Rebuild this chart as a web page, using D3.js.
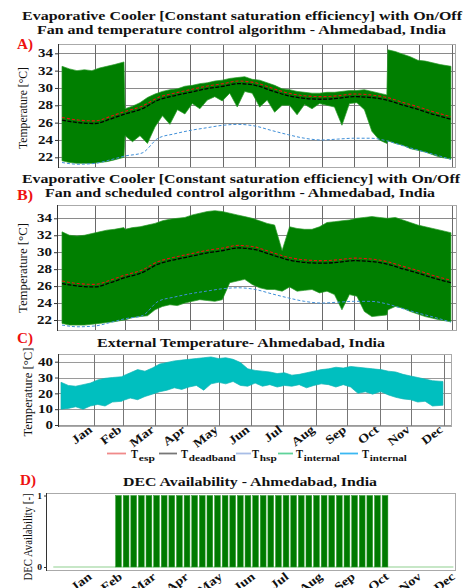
<!DOCTYPE html>
<html><head><meta charset="utf-8">
<script src="https://cdn.jsdelivr.net/npm/d3@7"></script>
<style>
html,body{margin:0;padding:0;background:#fff;}
svg{display:block;font-family:"Liberation Serif","Times New Roman",serif;}
</style></head><body>
<svg id="c" width="466" height="588"></svg>
<script>
// ---------------- DATA ----------------
const months = ["Jan","Feb","Mar","Apr","May","Jun","Jul","Aug","Sep","Oct","Nov","Dec"];
const monthEnds = [31,59,90,120,151,181,212,243,273,304,334,365];

// envelope sample days (day of year)
const envDays = [0,7,14,21,28,35,42,49,58,59,66,73,80,87,94,101,108,115,122,129,136,143,150,157,164,171,178,185,192,199,206,213,220,227,234,241,248,255,262,269,276,283,290,297,304,305,312,319,326,333,340,347,354,364];

// Panel A: internal temperature envelope (temperature control)
const aHigh = [32.5,32.2,32.0,32.1,32.0,32.3,32.5,32.7,33.0,
  27.6,27.9,28.3,28.9,29.3,29.6,29.8,29.9,30.2,30.3,30.5,30.6,30.8,30.9,31.1,31.2,31.3,31.0,30.9,30.6,
  30.3,29.9,29.8,29.6,29.5,29.4,29.4,29.5,29.5,29.6,29.7,29.7,29.8,29.6,29.4,29.2,
  34.4,34.2,33.9,33.6,33.2,33.1,32.9,32.7,32.5];
const aLow = [21.6,21.4,21.3,21.3,21.3,21.4,21.5,21.7,22.0,
  24.5,23.8,24.5,23.6,25.5,26.8,25.8,27.5,27.0,28.2,27.6,28.6,29.0,28.5,29.4,27.8,29.6,29.4,27.8,28.6,
  27.2,28.0,28.0,26.9,28.1,27.6,28.2,28.0,27.8,25.7,28.2,28.3,27.5,25.0,24.0,23.6,
  23.9,23.6,23.4,23.0,22.8,22.6,22.3,22.0,21.8];

// Panel B: internal temperature envelope (scheduled control)
const bHigh = [32.4,32.0,31.9,32.0,32.2,32.4,32.6,32.7,32.9,
  32.7,32.9,33.0,33.2,33.4,33.7,33.9,34.0,34.1,34.4,34.6,34.8,34.9,34.8,34.6,34.4,34.2,34.0,33.7,33.4,
  33.2,30.2,33.0,32.8,32.7,32.7,33.0,33.5,33.6,33.7,33.8,34.0,34.1,34.2,34.1,34.0,
  34.0,34.1,33.8,33.5,33.2,33.0,32.8,32.6,32.3];
const bLow = [21.6,21.4,21.4,21.4,21.5,21.6,21.7,21.8,22.0,
  22.0,22.3,22.4,22.5,23.2,23.6,23.8,23.7,24.0,24.2,24.4,24.3,24.2,24.4,26.4,26.6,26.8,26.2,25.8,25.6,
  25.6,25.4,25.9,25.4,25.5,25.6,25.2,25.4,25.0,23.2,25.0,24.8,23.0,22.4,22.5,22.6,
  23.2,23.6,23.4,23.0,22.7,22.4,22.2,22.0,21.8];

// Panel C: external temperature envelope
const extHigh = [27.0,25.0,24.5,25.5,26.5,28.5,29.5,30.0,30.5,
  31.0,33.0,35.0,34.0,36.0,38.5,39.5,40.5,41.0,41.5,42.0,42.5,43.0,42.0,42.5,41.5,39.5,35.5,34.5,34.0,
  33.5,32.5,33.0,31.5,32.0,33.0,34.0,35.0,35.5,36.5,36.0,37.0,36.5,36.0,35.5,35.0,
  35.0,34.0,33.5,32.0,31.0,30.0,29.0,28.0,27.5];
const extLow = [10.0,10.5,11.5,10.0,12.0,13.0,12.0,14.5,15.0,
  15.5,17.0,16.0,18.0,19.5,21.0,22.0,23.5,22.5,24.0,25.0,22.0,26.0,27.0,26.0,27.5,25.0,24.5,26.5,24.5,
  25.5,24.0,25.0,24.5,25.5,23.5,25.0,26.0,25.5,24.0,25.5,24.0,20.0,21.0,19.5,21.0,
  21.0,19.0,17.5,16.5,16.0,14.5,15.0,12.0,12.5];

// Setpoints
const spDays = [0,15,31,45,59,75,90,105,120,135,151,165,181,196,212,227,243,258,273,289,304,320,334,349,364];
const tEsp      = [26.6,26.3,26.2,26.7,27.3,27.9,28.9,29.4,29.8,30.2,30.5,30.8,30.6,30.0,29.4,29.1,29.0,29.1,29.3,29.2,28.9,28.3,27.8,27.2,26.7];
const tDeadband = [26.3,26.0,25.9,26.4,27.0,27.6,28.6,29.1,29.5,29.9,30.2,30.5,30.3,29.7,29.1,28.8,28.7,28.8,29.0,28.9,28.6,28.0,27.5,26.9,26.4];
const tHsp      = [21.4,21.2,21.3,21.7,22.15,22.5,24.2,24.7,25.1,25.4,25.7,25.8,25.6,25.1,24.6,24.2,24.0,24.1,24.2,24.2,23.9,23.3,22.8,22.3,21.75];

// Panel D: weekly DEC availability (weekday operation)
const decFirstDay = 5.5;
const decOnDays = 5.3;
const decAvail = [0,0,0,0,0,0,0,
  1,1,1,1,1,1,1,1,1,1,1,1,1,1,1,1,1,1,1,1,1,1,1,1,1,1,1,1,1,1,1,1,1,1,1,1,
  0,0,0,0,0,0,0,0,0];

const tempTicks = [22,24,26,28,30,32,34];
const extTicks = [0,10,20,30,40];
const decTicks = [0,1];

const legendItems = [
  {main:"T", sub:"esp", color:"#f08a8a"},
  {main:"T", sub:"deadband", color:"#777777"},
  {main:"T", sub:"hsp", color:"#a8bde6"},
  {main:"T", sub:"internal", color:"#5fd39a"},
  {main:"T", sub:"internal", color:"#3bb8f2"}
];

// ---------------- DRAW ----------------
const svg = d3.select("#c");

function title(txt, x1, x2, y, size) {
  svg.append("text").attr("x", x1).attr("y", y).attr("font-size", size).attr("font-weight", "bold")
    .attr("textLength", x2 - x1).attr("lengthAdjust", "spacingAndGlyphs").attr("fill", "#111").text(txt);
}
function tag(txt, x, y) {
  svg.append("text").attr("x", x).attr("y", y).attr("fill", "#ee1111").attr("font-weight", "bold")
    .attr("font-size", 14).attr("textLength", 16).attr("lengthAdjust", "spacingAndGlyphs").text(txt);
}
function ylabel(txt, cx, cy, len, size, weight) {
  svg.append("text").attr("transform", `translate(${cx},${cy}) rotate(-90)`)
    .attr("x", -len / 2).attr("y", 0).attr("font-size", size).attr("font-weight", weight || "normal")
    .attr("textLength", len).attr("lengthAdjust", "spacingAndGlyphs").attr("fill", "#111").text(txt);
}

let clipId = 0;
function panel(o) {
  const x = d3.scaleLinear().domain([0, 365]).range(o.xr);
  const y = d3.scaleLinear().domain(o.yd).range(o.yr);
  const g = svg.append("g");
  const [bx0, by0, bx1, by1] = o.box;
  const id = "clip" + (clipId++);
  g.append("clipPath").attr("id", id).append("rect")
    .attr("x", bx0).attr("y", by0).attr("width", bx1 - bx0).attr("height", by1 - by0);
  if (o.grid) {
    g.selectAll(".hg").data(o.ticks).join("line")
      .attr("x1", bx0).attr("x2", bx1).attr("y1", d => Math.round(y(d)) + 0.5).attr("y2", d => Math.round(y(d)) + 0.5)
      .attr("stroke", o.hcol || "#8a8a8a").attr("stroke-width", 1);
    g.selectAll(".vg").data(monthEnds).join("line")
      .attr("x1", d => Math.round(x(d)) + 0.5).attr("x2", d => Math.round(x(d)) + 0.5).attr("y1", by0).attr("y2", by1)
      .attr("stroke", o.vcol || "#6a6a6a").attr("stroke-width", 1);
  }
  g.append("rect").attr("x", bx0 + 0.5).attr("y", by0 + 0.5).attr("width", bx1 - bx0 - 1).attr("height", by1 - by0 - 1)
    .attr("fill", "none").attr("stroke", "#aaaaaa").attr("stroke-width", 1);
  const plot = g.append("g").attr("clip-path", `url(#${id})`);
  const ax = g.append("g").attr("transform", `translate(${bx0},0)`)
    .call(d3.axisLeft(y).tickValues(o.ticks).tickSize(o.tickSize || 3).tickFormat(d3.format("d")));
  ax.select(".domain").remove();
  ax.selectAll(".tick line").attr("stroke", "#333");
  ax.selectAll(".tick text").attr("font-family", '"Liberation Serif","Times New Roman",serif')
    .attr("font-weight", "bold").attr("font-size", o.tfs || 11.5).attr("fill", "#111")
    .attr("x", -(o.tpad || 5) / (o.tsx || 1.3)).attr("transform", `scale(${o.tsx || 1.3},1)`);
  g.append("line").attr("x1", bx0 + 0.5).attr("x2", bx0 + 0.5).attr("y1", by0).attr("y2", by1)
    .attr("stroke", "#333").attr("stroke-width", 1);
  return { x, y, g, plot };
}

function envelope(p, hi, lo, fill, stroke) {
  const area = d3.area().x((d, i) => p.x(envDays[i])).y0((d, i) => p.y(lo[i])).y1((d, i) => p.y(hi[i]));
  p.plot.append("path").datum(hi).attr("d", area).attr("fill", fill)
    .attr("stroke", stroke).attr("stroke-width", 0.7).attr("stroke-linejoin", "round");
}
function spLine(p, vals, color, width, dash) {
  const line = d3.line().x((d, i) => p.x(spDays[i])).y(d => p.y(d)).curve(d3.curveMonotoneX);
  p.plot.append("path").datum(vals).attr("d", line).attr("fill", "none").attr("stroke", color)
    .attr("stroke-width", width).attr("stroke-dasharray", dash);
}
function xLabels(p, axisY, dx, dy) {
  const ax = p.g.append("g").attr("transform", `translate(0,${axisY})`)
    .call(d3.axisBottom(p.x).tickValues(monthEnds).tickSize(0).tickFormat((d, i) => months[i]));
  ax.select(".domain").remove();
  ax.selectAll(".tick text").attr("font-family", '"Liberation Serif","Times New Roman",serif')
    .attr("font-weight", "bold").attr("font-size", 12).attr("fill", "#111")
    .attr("text-anchor", "end").attr("x", 0).attr("y", 0).attr("dy", 0)
    .attr("transform", `translate(${dx},${dy}) rotate(-38) scale(1.2,1)`);
}

// ----- Panel A -----
title("Evaporative Cooler [Constant saturation efficiency] with On/Off", 22, 462, 19.5, 12);
title("Fan and temperature control algorithm - Ahmedabad, India", 37, 446, 34, 12);
tag("A)", 17, 49);
const pA = panel({ xr: [62, 452], yd: [22, 34], yr: [157.3, 53.3], box: [58, 44, 456, 168], ticks: tempTicks, grid: true });
envelope(pA, aHigh, aLow, "#007f00", "#2a9a2a");
spLine(pA, tHsp, "#3f8fd8", 1, "3,2");
spLine(pA, tDeadband, "#000000", 1.3, "4,1.5");
spLine(pA, tEsp, "#e81010", 1.1, "3,2");
ylabel("Temperature [°C]", 26.5, 108, 82, 13);

// ----- Panel B -----
title("Evaporative Cooler [Constant saturation efficiency] with On/Off", 22, 460, 183, 12);
title("Fan and scheduled control algorithm - Ahmedabad, India", 45, 435, 197, 12);
tag("B)", 17, 200);
const pB = panel({ xr: [62, 452], yd: [22, 34], yr: [320, 218.3], box: [57, 205, 457, 331], ticks: tempTicks, grid: true });
envelope(pB, bHigh, bLow, "#007f00", "#2a9a2a");
spLine(pB, tHsp, "#3f8fd8", 1, "3,2");
spLine(pB, tDeadband, "#000000", 1.3, "4,1.5");
spLine(pB, tEsp, "#e81010", 1.1, "3,2");
ylabel("Temperature [°C]", 26.5, 268, 90, 13);

// ----- Panel C -----
tag("C)", 17, 343);
title("External Temperature- Ahmedabad, India", 97, 385, 347, 12);
const pC = panel({ xr: [61, 444], yd: [0, 40], yr: [425, 361.7], box: [58, 354, 452, 427], ticks: extTicks, grid: true, hcol: "#9a9a9a", vcol: "#777" });
envelope(pC, extHigh, extLow, "#00bfbf", "#11b5b5");
ylabel("Temperature [°C]", 32, 392, 89, 13.5);
xLabels(pC, 427, -1, 4);

// ----- Legend -----
(function () {
  const lg = svg.append("g").attr("font-weight", "bold");
  const lineX = [[107, 126], [159, 177], [236, 251], [278, 293], [340, 358]];
  const tX = [131, 181, 252, 296, 362];
  const subLen = [16, 47, 17, 36, 37];
  legendItems.forEach((it, i) => {
    lg.append("line").attr("x1", lineX[i][0]).attr("x2", lineX[i][1]).attr("y1", 453.5).attr("y2", 453.5)
      .attr("stroke", it.color).attr("stroke-width", 1.8);
    lg.append("text").attr("x", tX[i]).attr("y", 457.5).attr("font-size", 13).attr("fill", "#111")
      .attr("textLength", 7).attr("lengthAdjust", "spacingAndGlyphs").text(it.main);
    lg.append("text").attr("x", tX[i] + 7.8).attr("y", 461).attr("font-size", 8.5).attr("fill", "#111")
      .attr("textLength", subLen[i]).attr("lengthAdjust", "spacingAndGlyphs").text(it.sub);
  });
})();

// ----- Panel D -----
tag("D)", 20, 485);
title("DEC Availability - Ahmedabad, India", 123, 377, 486, 12);
const pD = panel({ xr: [56.3, 453.4], yd: [0, 1], yr: [567, 495.5], box: [46, 493, 456, 571], ticks: decTicks, grid: false, tickSize: 2, tfs: 8, tsx: 1.2, tpad: 4 });
pD.plot.append("line").attr("x1", pD.x(0) - 3).attr("x2", pD.x(365)).attr("y1", pD.y(0)).attr("y2", pD.y(0))
  .attr("stroke", "#8fd08f").attr("stroke-width", 1.2);
decAvail.forEach((v, i) => {
  if (v <= 0) return;
  const d0 = decFirstDay + 7 * i;
  pD.plot.append("rect").attr("x", pD.x(d0)).attr("y", pD.y(v))
    .attr("width", pD.x(d0 + decOnDays) - pD.x(d0)).attr("height", pD.y(0) - pD.y(v))
    .attr("fill", "#007a00").attr("stroke", "#2f9a2f").attr("stroke-width", 0.5);
});
ylabel("DEC Availability [-]", 32, 537, 87, 11.5);
xLabels(pD, 571, 2, 7);
</script>
</body></html>
